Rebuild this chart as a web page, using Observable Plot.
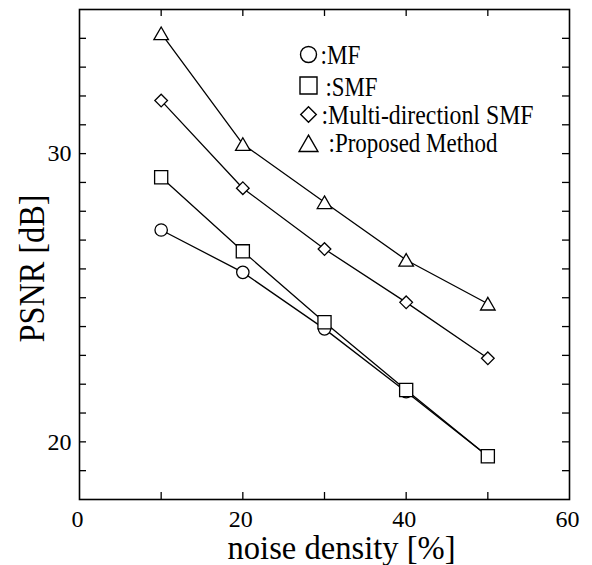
<!DOCTYPE html>
<html><head><meta charset="utf-8">
<script src="https://cdn.jsdelivr.net/npm/d3@7"></script>
<script src="https://cdn.jsdelivr.net/npm/@observablehq/plot@0.6"></script>
<style>body{margin:0;background:#fff}</style>
</head><body><div id="chart"></div>
<script>
// ---- data ----
const noise = [10, 20, 30, 40, 50];
const mf = [27.35, 25.88, 23.92, 21.74, 19.5];
const smf = [29.18, 26.61, 24.15, 21.80, 19.5];
const mdsmf = [31.84, 28.80, 26.69, 24.84, 22.90];
const proposed = [34.17, 30.33, 28.31, 26.31, 24.79];
const seriesNames = ["MF", "SMF", "Multi-directionl SMF", "Proposed Method"];
const xTickLabels = [0, 20, 40, 60];
const yTickLabels = [20, 30];
const xMinorTicks = [10, 20, 30, 40, 50];
const yMinorTicks = [19, 20, 21, 22, 23, 24, 25, 26, 27, 28, 29, 30, 31, 32, 33, 34];
const xTitle = "noise density [%]";
const yTitle = "PSNR [dB]";

// ---- styling / layout ----
const seriesValues = [mf, smf, mdsmf, proposed];
const symbols = ["circle", "square", "diamond2", "triangle"];
const markerR = [6.2, 7.4, 5.7, 5.4];
const markerDy = [0, 0, 0, 2];
const legendR = [8, 9.6, 7, 7];
const legendMarkDy = [45, 76, 105, 136.5];
const legendTextDx = [241, 246, 242, 249];
const legendTextDy = [54.5, 86, 114.5, 142];
const legendTextLen = [40, 52, 212, 169];

const W = 592, H = 565;
const mL = 79, mR = 23, mT = 9, mB = 66;
const pw = W - mL - mR, ph = H - mT - mB;
const tick = 7;

const rows = seriesNames.flatMap((name, s) =>
  noise.map((x, i) => ({x, y: seriesValues[s][i], name})));

const marks = [
  Plot.frame({stroke: "black", strokeWidth: 1.6}),
  // inward ticks on all four sides
  Plot.tickY(yMinorTicks, {y: d => d, insetRight: pw - tick, stroke: "black", strokeWidth: 1.3}),
  Plot.tickY(yMinorTicks, {y: d => d, insetLeft: pw - tick, stroke: "black", strokeWidth: 1.3}),
  Plot.tickX(xMinorTicks, {x: d => d, insetTop: ph - tick, stroke: "black", strokeWidth: 1.3}),
  Plot.tickX(xMinorTicks, {x: d => d, insetBottom: ph - tick, stroke: "black", strokeWidth: 1.3}),
  Plot.axisX({ticks: xTickLabels, tickSize: 0, tickPadding: 10, label: null, fontSize: 24, dx: -2}),
  Plot.axisY({ticks: yTickLabels, tickSize: 0, tickPadding: 8, label: null, fontSize: 24}),
  Plot.line(rows, {x: "x", y: "y", z: "name", stroke: "black", strokeWidth: 1.3}),
  ...seriesNames.map((name, s) =>
    Plot.dot(rows.filter(d => d.name === name), {
      x: "x", y: "y", symbol: symbols[s], r: markerR[s], dy: markerDy[s],
      fill: "white", stroke: "black", strokeWidth: 1.3
    })),
  // legend
  ...seriesNames.map((name, s) =>
    Plot.dot([name], {frameAnchor: "top-left", dx: 229, dy: legendMarkDy[s],
      symbol: symbols[s], r: legendR[s], fill: "white", stroke: "black", strokeWidth: 1.4})),
  ...seriesNames.map((name, s) =>
    Plot.text([":" + name], {text: d => d, frameAnchor: "top-left", dx: legendTextDx[s], dy: legendTextDy[s],
      textAnchor: "start", lineAnchor: "bottom", fontSize: 27, fill: "black"})),
  // axis titles
  Plot.text([xTitle], {text: d => d, frameAnchor: "bottom", dx: 17, dy: 59, textAnchor: "middle", lineAnchor: "bottom",
    fontSize: 34, fill: "black"}),
  Plot.text([yTitle], {text: d => d, frameAnchor: "left", dx: -36, dy: 14, rotate: -90,
    textAnchor: "middle", lineAnchor: "bottom", fontSize: 35, fill: "black"})
];

const plot = Plot.plot({
  width: W, height: H,
  marginLeft: mL, marginRight: mR, marginTop: mT, marginBottom: mB,
  x: {domain: [0, 60]},
  y: {domain: [18, 35]},
  style: {fontFamily: "'Liberation Serif', 'Times New Roman', serif", color: "black", background: "white"},
  marks
});

const lengths = new Map([[xTitle, 228], [yTitle, 148]]);
seriesNames.forEach((n, s) => lengths.set(":" + n, legendTextLen[s]));
d3.select(plot).selectAll("text").each(function () {
  const L = lengths.get(this.textContent);
  if (L) {
    this.setAttribute("textLength", L);
    this.setAttribute("lengthAdjust", "spacingAndGlyphs");
  }
});
document.getElementById("chart").appendChild(plot);
</script>
</body></html>
